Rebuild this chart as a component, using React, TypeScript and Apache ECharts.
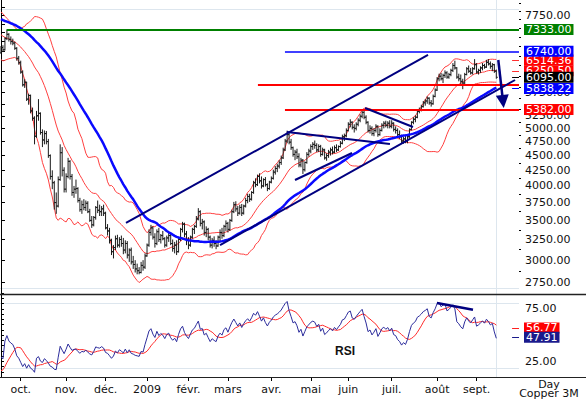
import React, { useEffect, useRef } from "react";
import * as echarts from "echarts";

// ---- data (LME Copper 3M, daily) ----
// closes before the first visible bar (warm-up for the indicators)
const priorCloses = [
  8350, 8300, 8260, 8200, 8240, 8150, 8100, 8060, 8120, 8020, 7960, 7990, 7900, 7860, 7890, 7820, 7780,
  7900, 7850, 7800, 7860, 7820, 7750, 7780, 7840, 7880, 7800, 7760, 7820, 7840,
  7650, 7620, 7680, 7600, 7560, 7500, 7450, 7480, 7400, 7320, 7250, 7150, 7100, 7000, 6950, 6900, 6850, 6800, 6700, 6620,
];

// [open, high, low, close]
const ohlc = [
  [6700,6880,6680,6840],[6840,6900,6720,6780],[6780,7120,6760,7080],[7080,7333,7040,7200],[7200,7230,7000,7060],
  [7060,7140,6920,7000],[7000,7080,6900,6960],[6960,7000,6780,6820],[6820,6850,6500,6560],[6560,6620,6400,6450],
  [6450,6500,6180,6220],[6220,6260,5880,5920],[5920,6050,5850,5980],[5980,5990,5560,5600],[5600,5720,5480,5680],
  [5680,5700,5300,5350],[5350,5420,5150,5200],[5200,5240,4700,4850],[4850,5350,4820,5250],[5250,5600,5150,5300],
  [5300,5320,4880,4920],[4920,4980,4650,4780],[4780,4960,4700,4900],[4900,4950,4700,4750],[4750,4800,4460,4500],
  [4500,4520,4100,4150],[4150,4250,3950,4050],[4050,4080,3650,3750],[3750,3900,3590,3700],[3700,4150,3680,4100],
  [4100,4700,4080,4550],[4550,4650,4150,4250],[4250,4300,3900,3950],[3950,4200,3900,4150],[4150,4460,4120,4400],
  [4400,4420,4100,4150],[4150,4190,3850,3900],[3900,4000,3820,3950],[3950,4100,3880,3960],[3960,3980,3750,3780],
  [3780,3820,3620,3650],[3650,3780,3590,3720],[3720,3800,3640,3680],[3680,3780,3630,3740],[3740,3770,3600,3620],
  [3620,3660,3480,3500],[3500,3560,3400,3440],[3440,3560,3420,3540],[3540,3700,3510,3680],[3680,3780,3600,3640],
  [3640,3720,3560,3620],[3620,3700,3560,3660],[3660,3720,3560,3600],[3600,3620,3380,3400],[3400,3450,3300,3360],
  [3360,3400,3200,3240],[3240,3260,3060,3100],[3100,3180,3020,3150],[3150,3300,3120,3260],[3260,3310,3150,3180],
  [3180,3280,3150,3250],[3250,3300,3160,3200],[3200,3270,3070,3120],[3120,3240,3080,3200],[3200,3230,3020,3060],
  [3060,3140,2980,3120],[3120,3150,2950,2980],[2980,3050,2900,2950],[2950,3000,2860,2900],[2900,2960,2840,2880],
  [2880,2920,2840,2860],[2860,2980,2850,2940],[2940,3000,2880,2920],[2920,3080,2900,3050],[3050,3200,3040,3180],
  [3180,3380,3160,3340],[3340,3440,3300,3400],[3400,3420,3250,3280],[3280,3330,3150,3200],[3200,3380,3180,3350],
  [3350,3400,3220,3250],[3250,3320,3200,3300],[3300,3360,3240,3260],[3260,3280,3150,3180],[3180,3300,3160,3270],
  [3270,3340,3220,3300],[3300,3330,3180,3200],[3200,3250,3100,3140],[3140,3220,3080,3180],[3180,3240,3060,3100],
  [3100,3280,3090,3250],[3250,3400,3230,3380],[3380,3480,3340,3450],[3450,3470,3280,3320],[3320,3360,3180,3240],
  [3240,3280,3130,3180],[3180,3300,3160,3280],[3280,3400,3260,3380],[3380,3440,3320,3420],[3420,3560,3400,3520],
  [3520,3670,3500,3620],[3620,3640,3420,3460],[3460,3520,3380,3480],[3480,3500,3300,3340],[3340,3420,3280,3380],
  [3380,3400,3240,3280],[3280,3300,3150,3180],[3180,3270,3140,3240],[3240,3290,3160,3200],[3200,3240,3130,3170],
  [3170,3300,3160,3280],[3280,3380,3230,3340],[3340,3400,3260,3300],[3300,3440,3280,3420],[3420,3500,3360,3460],
  [3460,3480,3340,3380],[3380,3520,3360,3500],[3500,3650,3480,3620],[3620,3760,3600,3720],[3720,3770,3620,3660],
  [3660,3700,3560,3600],[3600,3720,3580,3680],[3680,3730,3560,3600],[3600,3720,3580,3700],[3700,3820,3680,3780],
  [3780,3880,3740,3840],[3840,3880,3760,3800],[3800,3920,3780,3900],[3900,4080,3880,4050],[4050,4120,3980,4020],
  [4020,4180,4000,4150],[4150,4200,4040,4080],[4080,4150,3960,4000],[4000,4120,3980,4100],[4100,4140,3990,4020],
  [4020,4040,3920,3960],[3960,4080,3940,4060],[4060,4150,4040,4120],[4120,4260,4100,4220],[4220,4320,4180,4280],
  [4280,4360,4220,4320],[4320,4420,4280,4380],[4380,4500,4340,4460],[4460,4640,4440,4600],[4600,4800,4580,4760],
  [4760,4956,4720,4880],[4880,4920,4700,4740],[4740,4800,4600,4640],[4640,4660,4480,4520],[4520,4600,4420,4560],
  [4560,4620,4440,4480],[4480,4540,4300,4340],[4340,4460,4300,4420],[4420,4440,4190,4260],[4260,4400,4230,4380],
  [4380,4560,4360,4520],[4520,4620,4480,4580],[4580,4700,4540,4660],[4660,4740,4600,4700],[4700,4770,4620,4680],
  [4680,4720,4560,4600],[4600,4700,4560,4660],[4660,4690,4480,4520],[4520,4640,4500,4600],[4600,4620,4430,4460],
  [4460,4540,4410,4500],[4500,4600,4460,4560],[4560,4640,4500,4600],[4600,4660,4520,4560],[4560,4680,4540,4640],
  [4640,4700,4560,4600],[4600,4680,4580,4660],[4660,4760,4640,4720],[4720,4880,4700,4840],[4840,4900,4760,4860],
  [4860,5000,4830,4960],[4960,5120,4940,5080],[5080,5180,5020,5120],[5120,5140,4980,5020],[5020,5080,4920,5000],
  [5000,5120,4960,5080],[5080,5200,5040,5160],[5160,5280,5120,5240],[5240,5380,5200,5320],[5320,5370,5180,5220],
  [5220,5260,5080,5120],[5120,5140,4920,4960],[4960,5060,4900,5000],[5000,5040,4860,4900],[4900,5000,4850,4960],
  [4960,5080,4920,5040],[5040,5060,4840,4880],[4880,5000,4860,4960],[4960,5100,4940,5060],[5060,5140,5000,5100],
  [5100,5150,5020,5060],[5060,5140,5000,5100],[5100,5160,5000,5040],[5040,5160,5000,5100],[5100,5120,4940,4980],
  [4980,5040,4900,4960],[4960,5000,4840,4880],[4880,4960,4800,4840],[4840,4880,4720,4760],[4760,4840,4710,4800],
  [4800,4860,4720,4760],[4760,4860,4720,4840],[4840,5000,4820,4980],[4980,5140,4960,5120],[5120,5220,5080,5180],
  [5180,5260,5120,5220],[5220,5360,5200,5340],[5340,5420,5300,5380],[5380,5480,5340,5440],[5440,5560,5420,5520],
  [5520,5600,5460,5560],[5560,5660,5500,5620],[5620,5640,5480,5520],[5520,5580,5440,5500],[5500,5700,5480,5660],
  [5660,5840,5640,5800],[5800,6100,5780,6060],[6060,6180,6000,6120],[6120,6200,6020,6060],[6060,6180,5960,6140],
  [6140,6260,6080,6200],[6200,6240,6060,6100],[6100,6200,6060,6160],[6160,6300,6120,6260],[6260,6440,6220,6380],
  [6380,6500,6280,6320],[6320,6340,6060,6100],[6100,6180,6000,6060],[6060,6160,5940,6000],[6000,6060,5820,5960],
  [5960,6200,5940,6160],[6160,6340,6140,6300],[6300,6380,6200,6240],[6240,6320,6160,6200],[6200,6340,6160,6300],
  [6300,6540,6280,6400],[6400,6440,6180,6220],[6220,6300,6160,6260],[6260,6360,6200,6320],[6320,6440,6260,6380],
  [6380,6420,6300,6340],[6340,6520,6320,6460],[6460,6540,6380,6420],[6420,6480,6300,6360],[6360,6440,6240,6400],
  [6400,6420,6200,6240],[6240,6280,6060,6095],
];

// calendar
const startDate = "2008-09-17";
const holidays = ["2008-12-25", "2008-12-26", "2009-01-01", "2009-04-10", "2009-04-13", "2009-05-04", "2009-05-25", "2009-08-31"];
const futureDays = 11;
const monthNames = ["2009", "févr.", "mars", "avr.", "mai", "juin", "juil.", "août", "sept.", "oct.", "nov.", "déc."];

// axis ticks / labels
const priceLabels = [7750, 5750, 5250, 5000, 4750, 4500, 4250, 4000, 3750, 3500, 3250, 3000, 2750];
const priceMajorTicks = [2750, 3000, 3250, 3500, 3750, 4000, 4250, 4500, 4750, 5000, 5250, 5500, 5750, 6000, 6250, 6500, 6750, 7000, 7250, 7500, 7750, 8000];
const priceMinorTicks = [2875, 3125, 3375, 3625, 3875, 4125, 4375, 4625, 4875, 5125, 5375, 5625, 5875, 6125, 6375, 6625, 6875, 7125, 7375, 7625, 7875, 8125];
const rsiLabels = [25, 75];

// annotations: [trading-day index, price]
const trendLines = [
  [[63.35, 3465], [216.4, 6645]],
  [[111.0, 3181], [260.5, 6031]],
  [[144.9, 4931], [197.1, 4707]],
  [[184.5, 5411], [208.8, 5027]],
  [[149.0, 4093], [177.9, 4545]],
];
const levels = [
  { value: 5930, start: 130.2, color: "#ff0000", width: 2, text: "" },
  { value: 7333, start: 2.9, color: "#008000", width: 2, text: "7333.00" },
  { value: 6740, start: 143.9, color: "#0000ff", width: 1.5, text: "6740.00" },
  { value: 5382, start: 143.9, color: "#ff0000", width: 2, text: "5382.00" },
];
const endValues = [
  { value: 6250.5, color: "#ff3030", bg: "#ff0000", text: "6250.50" },
  { value: 6514.36, color: "#ff3030", bg: "#ff0000", text: "6514.36" },
  { value: 6095, color: "#000000", bg: "#000000", text: "6095.00" },
  { value: 5838.22, color: "#0000ff", bg: "#0000ff", text: "5838.22" },
];
const arrowFrom = [252.0, 6517];
const arrowTo = [254.4, 5549];
const rsiDivergence = [[220.9, 80.4], [239.2, 74.0]];
const rsiEndValues = [
  { value: 56.77, color: "#ff2020", bg: "#ff0000", text: "56.77" },
  { value: 47.91, color: "#1a1a8c", bg: "#1a1a8c", text: "47.91" },
];

// ---- helpers ----
const lg = (v: number) => Math.log10(v);
const mean = (a: number[]) => a.reduce((s, x) => s + x, 0) / a.length;

function tradingDays(start: string, count: number): string[] {
  const out: string[] = [];
  const [y, m, d] = start.split("-").map(Number);
  const dt = new Date(Date.UTC(y, m - 1, d));
  while (out.length < count) {
    const s = dt.toISOString().slice(0, 10);
    const wd = dt.getUTCDay();
    if (wd !== 0 && wd !== 6 && holidays.indexOf(s) < 0) out.push(s);
    dt.setUTCDate(dt.getUTCDate() + 1);
  }
  return out;
}

export default function App() {
  const ref = useRef<HTMLDivElement>(null);
  useEffect(() => {
    const N = ohlc.length + futureDays;
    const cats = tradingDays(startDate, N);
    const monthOf = (s: string) => Number(s.slice(5, 7));
    const isMonthStart = (i: number) => i > 0 && monthOf(cats[i]) !== monthOf(cats[i - 1]);

    const P = priorCloses.length;
    const closesAll = [...priorCloses, ...ohlc.map((r) => r[3])];
    const ma50 = ohlc.map((_, i) => lg(mean(closesAll.slice(P + i - 49, P + i + 1))));
    const bbU: number[] = [], bbM: number[] = [], bbL: number[] = [];
    ohlc.forEach((_, i) => {
      const w = closesAll.slice(P + i - 19, P + i + 1);
      const m = mean(w);
      const sd = Math.sqrt(mean(w.map((x) => (x - m) * (x - m))));
      bbU.push(lg(m + 2 * sd)); bbM.push(lg(m)); bbL.push(lg(m - 2 * sd));
    });
    const rsiAll: number[] = new Array(closesAll.length).fill(NaN);
    let ag = 0, al = 0;
    for (let k = 1; k <= 14; k++) {
      const d = closesAll[k] - closesAll[k - 1];
      if (d > 0) ag += d; else al -= d;
    }
    ag /= 14; al /= 14;
    rsiAll[14] = 100 - 100 / (1 + ag / Math.max(al, 1e-9));
    for (let k = 15; k < closesAll.length; k++) {
      const d = closesAll[k] - closesAll[k - 1];
      ag = (ag * 13 + Math.max(d, 0)) / 14;
      al = (al * 13 + Math.max(-d, 0)) / 14;
      rsiAll[k] = 100 - 100 / (1 + ag / Math.max(al, 1e-9));
    }
    const rsi = ohlc.map((_, i) => rsiAll[P + i]);
    const rsiSig = ohlc.map((_, i) => mean(rsiAll.slice(P + i - 8, P + i + 1)));

    const kPx = 258 * Math.LN10; // px per log10 unit
    const lmax = lg(7750) + 15.3 / kPx;
    const lmin = lmax - 293 / kPx;

    const font = "DejaVu Sans";
    const box = (bg: string, text: string) => ({
      show: true, position: "end", distance: 5, formatter: text, color: "#fff",
      backgroundColor: bg, padding: [1, 2, 0, 2], fontSize: 11, lineHeight: 10, fontFamily: font,
    });

    const mainMarks: any[] = [];
    levels.forEach((l) => {
      mainMarks.push([
        { coord: [l.start, lg(l.value)], lineStyle: { color: l.color, width: l.width, type: "solid" }, label: l.text ? box(l.color, l.text) : { show: false } },
        { coord: [N - 0.5, lg(l.value)] },
      ]);
    });
    const endMarks = endValues.map((e) => [
      { coord: [259, lg(e.value)], lineStyle: { color: e.color, width: 1, type: "solid" }, label: box(e.bg, e.text) },
      { coord: [N - 0.5, lg(e.value)] },
    ]);
    // order: lower boxes first so later ones overlap
    const allMain = [mainMarks[0], endMarks[0], endMarks[1], mainMarks[1], mainMarks[2], endMarks[2], endMarks[3], mainMarks[3]];
    allMain.push([
      { coord: [arrowFrom[0], lg(arrowFrom[1])], symbol: "none", lineStyle: { color: "#000080", width: 2.5, type: "solid" }, label: { show: false } },
      { coord: [arrowTo[0], lg(arrowTo[1])], symbol: "triangle", symbolSize: 13 },
    ]);

    const rsiMarks = rsiEndValues.map((e) => [
      { coord: [259, e.value], lineStyle: { color: e.color, width: 1, type: "solid" }, label: box(e.bg, e.text) },
      { coord: [N - 0.5, e.value] },
    ]);

    const option: any = {
      animation: false,
      textStyle: { fontFamily: font },
      grid: [
        { left: 0, top: 0, width: 519, height: 293 },
        { left: 0, top: 293, width: 519, height: 84 },
      ],
      xAxis: [
        { type: "category", gridIndex: 0, data: cats, show: false },
        {
          type: "category", gridIndex: 1, data: cats,
          axisLine: { show: false },
          axisTick: { show: true, alignWithLabel: true, length: 4, interval: (i: number) => isMonthStart(i), lineStyle: { color: "#000" } },
          axisLabel: {
            interval: (i: number) => isMonthStart(i), margin: 7, color: "#111", fontSize: 11, fontFamily: font,
            formatter: (v: string) => monthNames[monthOf(v) - 1],
          },
          splitLine: { show: false },
        },
        { type: "value", gridIndex: 0, min: -0.5, max: N - 0.5, show: false },
        { type: "value", gridIndex: 1, min: -0.5, max: N - 0.5, show: false },
      ],
      yAxis: [
        {
          type: "value", gridIndex: 0, position: "right", min: lmin, max: lmax, scale: true,
          axisLine: { show: true, lineStyle: { color: "#000", width: 1 } },
          axisTick: { show: true, length: 4, customValues: priceMajorTicks.map(lg), lineStyle: { color: "#000" } },
          axisLabel: {
            show: true, margin: 6, color: "#111", fontSize: 11, fontFamily: font,
            customValues: priceLabels.map(lg),
            formatter: (v: number) => Math.round(Math.pow(10, v)).toFixed(2),
          },
          splitLine: { show: false },
        },
        {
          type: "value", gridIndex: 0, position: "right", min: lmin, max: lmax, scale: true,
          axisLine: { show: false },
          axisTick: { show: true, length: 2, customValues: priceMinorTicks.map(lg), lineStyle: { color: "#000" } },
          axisLabel: { show: false },
          splitLine: { show: false },
        },
        {
          type: "value", gridIndex: 1, position: "right", min: 10, max: 90, interval: 5,
          axisLine: { show: true, lineStyle: { color: "#000", width: 1 } },
          axisTick: { show: true, length: 3, lineStyle: { color: "#000" } },
          axisLabel: {
            margin: 6, color: "#111", fontSize: 11, fontFamily: font,
            formatter: (v: number) => (rsiLabels.indexOf(v) >= 0 ? v.toFixed(2) : ""),
          },
          splitLine: { show: false },
        },
      ],
      series: [
        ...[bbU, bbM, bbL].map((d) => ({
          type: "line", xAxisIndex: 0, yAxisIndex: 0, data: d, showSymbol: false, symbol: "none", z: 2,
          lineStyle: { color: "#ff4040", width: 1 }, silent: true,
        })),
        {
          type: "custom", xAxisIndex: 0, yAxisIndex: 0, z: 3, silent: true,
          data: ohlc.map((r, i) => [i, lg(r[0]), lg(r[1]), lg(r[2]), lg(r[3])]),
          encode: { x: 0, y: [1, 2, 3, 4] },
          renderItem: (params: any, api: any) => {
            const x = api.value(0);
            const pO = api.coord([x, api.value(1)]);
            const pH = api.coord([x, api.value(2)]);
            const pL = api.coord([x, api.value(3)]);
            const pC = api.coord([x, api.value(4)]);
            const st = { stroke: "#1a1a1a", lineWidth: 1 };
            return {
              type: "group",
              children: [
                { type: "line", shape: { x1: pH[0], y1: pH[1], x2: pL[0], y2: pL[1] }, style: st },
                { type: "line", shape: { x1: pO[0] - 1.5, y1: pO[1], x2: pO[0], y2: pO[1] }, style: st },
                { type: "line", shape: { x1: pC[0], y1: pC[1], x2: pC[0] + 1.5, y2: pC[1] }, style: st },
              ],
            };
          },
        },
        {
          type: "line", xAxisIndex: 0, yAxisIndex: 0, data: ma50, showSymbol: false, symbol: "none", z: 4,
          lineStyle: { color: "#0a0aff", width: 2.5 }, silent: true,
        },
        ...trendLines.map((t) => ({
          type: "line", xAxisIndex: 2, yAxisIndex: 0, z: 5, silent: true, symbol: "none", showSymbol: false,
          data: t.map((p) => [p[0], lg(p[1])]),
          lineStyle: { color: "#000080", width: 2 },
        })),
        {
          type: "line", xAxisIndex: 2, yAxisIndex: 0, z: 6, silent: true, symbol: "none", showSymbol: false,
          data: [[N - 0.5, lg(7333)]], lineStyle: { width: 0 },
          markLine: {
            silent: true, symbol: ["none", "none"], animation: false,
            label: { show: false }, lineStyle: { type: "solid" }, emphasis: { disabled: true },
            data: allMain,
          },
        },
        {
          type: "line", xAxisIndex: 1, yAxisIndex: 2, data: rsiSig, showSymbol: false, symbol: "none", z: 3,
          lineStyle: { color: "#ff2a2a", width: 1 }, silent: true,
        },
        {
          type: "line", xAxisIndex: 1, yAxisIndex: 2, data: rsi, showSymbol: false, symbol: "none", z: 4,
          lineStyle: { color: "#2d2d9c", width: 1 }, silent: true,
        },
        {
          type: "line", xAxisIndex: 3, yAxisIndex: 2, z: 5, silent: true, symbol: "none", showSymbol: false,
          data: rsiDivergence, lineStyle: { color: "#000080", width: 2.5 },
        },
        {
          type: "line", xAxisIndex: 3, yAxisIndex: 2, z: 6, silent: true, symbol: "none", showSymbol: false,
          data: [[N - 0.5, 50]], lineStyle: { width: 0 },
          markLine: {
            silent: true, symbol: ["none", "none"], animation: false,
            label: { show: false }, lineStyle: { type: "solid" }, emphasis: { disabled: true },
            data: rsiMarks,
          },
        },
      ],
      graphic: [
        { type: "line", silent: true, z: -1, shape: { x1: 0, y1: 9.5, x2: 519, y2: 9.5 }, style: { stroke: "#dde6ee", lineWidth: 1 } },
        { type: "line", silent: true, z: -1, shape: { x1: 0, y1: 288.5, x2: 519, y2: 288.5 }, style: { stroke: "#dde6ee", lineWidth: 1 } },
        { type: "line", silent: true, z: -1, shape: { x1: 0, y1: 303.5, x2: 519, y2: 303.5 }, style: { stroke: "#dde6ee", lineWidth: 1 } },
        { type: "line", silent: true, z: -1, shape: { x1: 0, y1: 368.5, x2: 519, y2: 368.5 }, style: { stroke: "#dde6ee", lineWidth: 1 } },
        { type: "line", silent: true, z: -1, shape: { x1: 496.5, y1: 0, x2: 496.5, y2: 377 }, style: { stroke: "#dde6ee", lineWidth: 1 } },
        { type: "line", silent: true, z: 10, shape: { x1: 0, y1: 294.5, x2: 586, y2: 294.5 }, style: { stroke: "#222", lineWidth: 1.5 } },
        { type: "line", silent: true, z: 10, shape: { x1: 0, y1: 377.5, x2: 586, y2: 377.5 }, style: { stroke: "#222", lineWidth: 1 } },
        { type: "text", silent: true, z: 10, x: 345, y: 351, style: { text: "RSI", font: "bold 12px 'Liberation Sans', Arial, sans-serif", fill: "#111", align: "center", verticalAlign: "middle" } },
        { type: "text", silent: true, z: 10, x: 549, y: 384, style: { text: "Day", font: "11px 'DejaVu Sans'", fill: "#111", align: "center", verticalAlign: "middle" } },
        { type: "text", silent: true, z: 10, x: 549, y: 393.5, style: { text: "Copper 3M", font: "11px 'DejaVu Sans'", fill: "#111", align: "center", verticalAlign: "middle" } },
      ],
    };

    const chart = echarts.init(ref.current as HTMLDivElement, null, { renderer: "svg" });
    chart.setOption(option);
    return () => chart.dispose();
  }, []);
  return <div ref={ref} style={{ position: "fixed", left: 0, top: 0, width: 586, height: 399, background: "#fff" }} />;
}
